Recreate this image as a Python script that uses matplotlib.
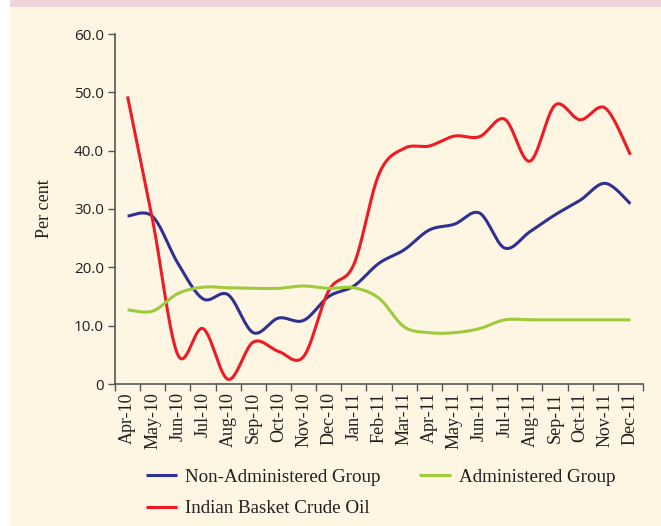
import numpy as np
import matplotlib.pyplot as plt
from matplotlib.patches import Rectangle

# Months on the x axis
months = ["Apr-10", "May-10", "Jun-10", "Jul-10", "Aug-10", "Sep-10", "Oct-10",
          "Nov-10", "Dec-10", "Jan-11", "Feb-11", "Mar-11", "Apr-11", "May-11",
          "Jun-11", "Jul-11", "Aug-11", "Sep-11", "Oct-11", "Nov-11", "Dec-11"]

# Values (per cent)
non_admin = [28.8, 28.7, 20.7, 14.6, 15.3, 8.8, 11.3, 10.9, 15.0, 16.8, 20.7,
             23.0, 26.4, 27.4, 29.3, 23.3, 26.1, 29.0, 31.5, 34.4, 30.9]
admin = [12.7, 12.5, 15.5, 16.6, 16.5, 16.4, 16.4, 16.8, 16.4, 16.5, 14.7,
         9.8, 8.8, 8.8, 9.5, 11.0, 11.0, 11.0, 11.0, 11.0, 11.0]
crude = [49.3, 28.0, 5.0, 9.5, 0.8, 7.2, 5.6, 4.7, 16.0, 20.5, 36.0,
         40.4, 40.8, 42.5, 42.4, 45.4, 38.2, 47.8, 45.3, 47.3, 39.3]

yticks = [0, 10, 20, 30, 40, 50, 60]
ytick_labels = ["0", "10.0", "20.0", "30.0", "40.0", "50.0", "60.0"]


def smooth(x, y, n=30):
    # Catmull-Rom style bezier, like a spreadsheet "smoothed line"
    x = np.asarray(x, float)
    y = np.asarray(y, float)
    px = np.concatenate([[x[0]], x, [x[-1]]])
    py = np.concatenate([[y[0]], y, [y[-1]]])
    t = np.linspace(0, 1, n)
    xs, ys = [], []
    for i in range(1, len(px) - 2):
        p0 = np.array([px[i], py[i]])
        p3 = np.array([px[i + 1], py[i + 1]])
        c1 = p0 + (p3 - np.array([px[i - 1], py[i - 1]])) / 6
        c2 = p3 - (np.array([px[i + 2], py[i + 2]]) - p0) / 6
        b = ((1 - t) ** 3)[:, None] * p0 + (3 * (1 - t) ** 2 * t)[:, None] * c1 \
            + (3 * (1 - t) * t ** 2)[:, None] * c2 + (t ** 3)[:, None] * p3
        xs.append(b[:, 0])
        ys.append(b[:, 1])
    return np.concatenate(xs), np.concatenate(ys)


cream = "#FEF6E2"
fig = plt.figure(figsize=(6.61, 5.26), dpi=100)
fig.patch.set_facecolor("white")
fig.patches.append(Rectangle((10 / 661, 0), 1, 1, transform=fig.transFigure,
                             facecolor=cream, edgecolor="none", zorder=-2))
fig.patches.append(Rectangle((10 / 661, 1 - 7 / 526), 1, 7 / 526,
                             transform=fig.transFigure, facecolor="#F0D4DA",
                             edgecolor="none", zorder=-1))

ax = fig.add_axes([115 / 661, 1 - 384 / 526, 528 / 661, 350 / 526])
ax.set_facecolor(cream)

x = np.arange(len(months))
series = [(non_admin, "#2E3192", "Non-Administered Group"),
          (crude, "#ED1C24", "Indian Basket Crude Oil"),
          (admin, "#9DCB3B", "Administered Group")]
for vals, col, lab in series:
    sx, sy = smooth(x, vals)
    ax.plot(sx, sy, color=col, lw=2.2, label=lab, solid_capstyle="butt")

ax.set_xlim(-0.5, len(months) - 0.5)
ax.set_ylim(0, 60)

ax.set_yticks(yticks)
ax.set_yticklabels(ytick_labels, fontfamily="Open Sans", fontsize=11, color="#231F20")
ax.set_xticks(x)
ax.set_xticklabels(months, rotation=90, fontfamily="Liberation Serif",
                   fontsize=13, color="#231F20")
ax.set_xticks(np.arange(-0.5, len(months)), minor=True)
ax.tick_params(axis="x", which="major", length=0, pad=6)
ax.tick_params(axis="x", which="minor", length=5, width=1, color="#555555")
ax.tick_params(axis="y", length=5, width=1, color="#555555", pad=3)

for s in ["top", "right"]:
    ax.spines[s].set_visible(False)
for s in ["left", "bottom"]:
    ax.spines[s].set_color("#555555")
    ax.spines[s].set_linewidth(1.2)

ax.set_ylabel("Per cent", fontfamily="Liberation Serif", fontsize=13,
              color="#231F20", labelpad=15)

leg = fig.legend(loc="upper left", bbox_to_anchor=(136 / 661, 1 - 459 / 526),
                 ncol=2, frameon=False, borderpad=0, handlelength=1.68,
                 handletextpad=0.42, columnspacing=2.0, labelspacing=0.75,
                 prop={"family": "Liberation Serif", "size": 13.7})
for t in leg.get_texts():
    t.set_color("#231F20")

fig.savefig("out.png", dpi=100, facecolor=fig.get_facecolor())
